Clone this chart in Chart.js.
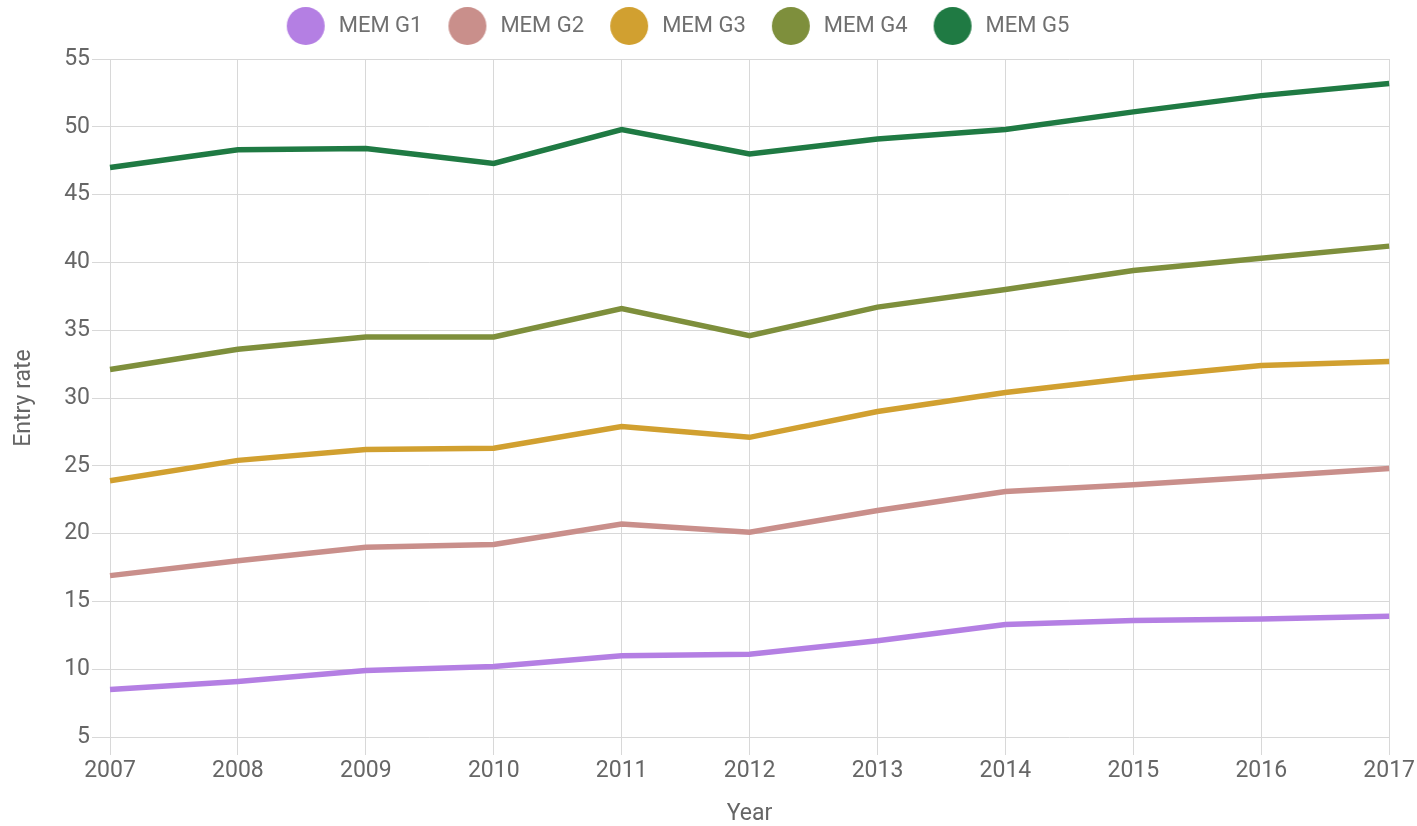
<!DOCTYPE html>
<html>
<head>
<meta charset="utf-8">
<title>Entry rate by year</title>
<script src="https://cdn.jsdelivr.net/npm/chart.js@4.4.1/dist/chart.umd.min.js"></script>
<style>
  html, body { margin: 0; padding: 0; background: #fff; }
  #wrap { width: 1417px; height: 826px; }
</style>
</head>
<body>
<div id="wrap"><canvas id="chart"></canvas></div>
<script>
// Data
const years = ['2007', '2008', '2009', '2010', '2011', '2012', '2013', '2014', '2015', '2016', '2017'];
const seriesNames = ['MEM G1', 'MEM G2', 'MEM G3', 'MEM G4', 'MEM G5'];
const memG1 = [8.5, 9.1, 9.9, 10.2, 11.0, 11.1, 12.1, 13.3, 13.6, 13.7, 13.9];
const memG2 = [16.9, 18.0, 19.0, 19.2, 20.7, 20.1, 21.7, 23.1, 23.6, 24.2, 24.8];
const memG3 = [23.9, 25.4, 26.2, 26.3, 27.9, 27.1, 29.0, 30.4, 31.5, 32.4, 32.7];
const memG4 = [32.1, 33.6, 34.5, 34.5, 36.6, 34.6, 36.7, 38.0, 39.4, 40.3, 41.2];
const memG5 = [47.0, 48.3, 48.4, 47.3, 49.8, 48.0, 49.1, 49.8, 51.1, 52.3, 53.2];
const yMin = 5, yMax = 55, yStep = 5;

const colors = ['#b47fe3', '#c98f8b', '#d1a030', '#7e8f3c', '#1f7a43'];
const allSeries = [memG1, memG2, memG3, memG4, memG5];

// big round legend markers
function dot(color) {
  const c = document.createElement('canvas');
  c.width = 40; c.height = 40;
  const g = c.getContext('2d');
  g.fillStyle = color;
  g.beginPath();
  g.arc(20, 20, 19, 0, Math.PI * 2);
  g.fill();
  return c;
}
const dots = colors.map(dot);

const tickFont = { family: 'Roboto', size: 23 };
const gray = '#666';

// stretch legend box so the plot starts where the reference does,
// and nudge it left a little like the original
const legendSize = {
  id: 'legendSize',
  beforeLayout(chart) {
    const lg = chart.legend;
    if (lg && !lg._patched) {
      const fit = lg.fit.bind(lg);
      lg.fit = function () { fit(); this.height = 67; };
      lg._patched = true;
    }
  },
  afterLayout(chart) {
    const lg = chart.legend;
    if (lg) { lg.left -= 32; lg.right -= 32; }
  }
};

new Chart(document.getElementById('chart'), {
  type: 'line',
  data: {
    labels: years,
    datasets: seriesNames.map((name, i) => ({
      label: name,
      data: allSeries[i],
      borderColor: colors[i],
      backgroundColor: colors[i],
      borderWidth: 5.5,
      pointRadius: 0,
      tension: 0,
      fill: false
    }))
  },
  options: {
    responsive: true,
    maintainAspectRatio: false,
    animation: false,
    layout: { padding: { top: -8, left: 0, right: 0, bottom: 0 } },
    plugins: {
      tooltip: { enabled: false },
      legend: {
        position: 'top',
        labels: {
          font: { family: 'Roboto', size: 22 },
          color: '#707070',
          usePointStyle: true,
          pointStyleWidth: 44,
          padding: 23,
          generateLabels(chart) {
            return chart.data.datasets.map((ds, i) => ({
              text: ds.label,
              fillStyle: colors[i],
              strokeStyle: colors[i],
              lineWidth: 0,
              pointStyle: dots[i],
              hidden: false,
              datasetIndex: i,
              fontColor: '#707070'
            }));
          }
        }
      }
    },
    scales: {
      x: {
        type: 'category',
        offset: false,
        grid: { color: '#d8d8d8', lineWidth: 1, tickLength: 18 },
        border: { display: false },
        ticks: { font: tickFont, color: gray, maxRotation: 0, autoSkip: false, padding: 2 },
        title: {
          display: true, text: 'Year', color: gray,
          font: { family: 'Roboto', size: 23, lineHeight: 1 },
          padding: { top: 0, bottom: 0 }
        },
        afterFit(scale) { scale.height = 89; }
      },
      y: {
        min: yMin,
        max: yMax,
        grid: { color: '#d8d8d8', lineWidth: 1, tickLength: 18 },
        border: { display: false },
        ticks: { stepSize: yStep, font: tickFont, color: gray, padding: 2 },
        title: {
          display: true, text: 'Entry rate', color: gray,
          font: { family: 'Roboto', size: 23, lineHeight: 1 },
          padding: { top: 13, bottom: 0 }
        },
        afterFit(scale) { scale.width = 110; }
      }
    }
  },
  plugins: [legendSize]
});
</script>
</body>
</html>
